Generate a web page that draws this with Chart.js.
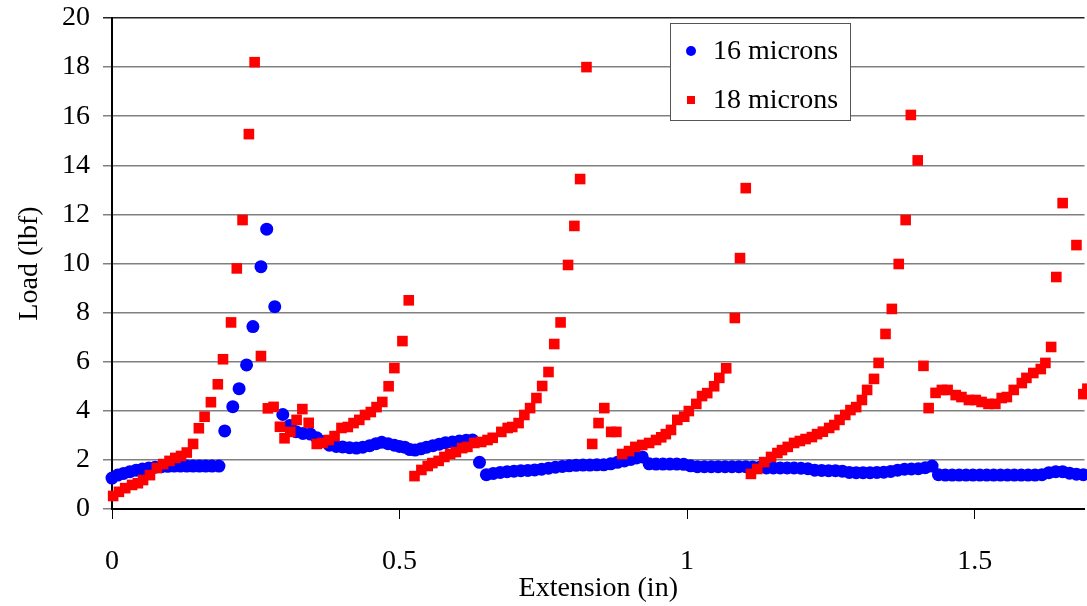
<!DOCTYPE html>
<html>
<head>
<meta charset="utf-8">
<script src="https://cdn.jsdelivr.net/npm/chart.js@4/dist/chart.umd.min.js"></script>
<style>
  body { margin: 0; overflow: hidden; background: #fff; }
  #wrap { width: 1092px; height: 606px; }
</style>
</head>
<body>
<div id="wrap"><canvas id="grafico" width="1092" height="606"></canvas></div>
<script>
// Extensao (in) e carga (lbf) de cada leitura
const ext16 = [0.000, 0.010, 0.020, 0.031, 0.042, 0.053, 0.064, 0.075, 0.086, 0.097, 0.108, 0.119, 0.130, 0.141, 0.152, 0.163, 0.174, 0.186,
  0.196, 0.210, 0.221, 0.234, 0.245, 0.259, 0.269, 0.283, 0.297, 0.309, 0.320, 0.332, 0.345, 0.356, 0.367, 0.378, 0.390, 0.401,
  0.413, 0.425, 0.436, 0.448, 0.459, 0.469, 0.480, 0.491, 0.500, 0.509, 0.518, 0.527, 0.537, 0.547, 0.558, 0.569, 0.580, 0.592,
  0.604, 0.616, 0.627, 0.639, 0.651, 0.663, 0.675, 0.687, 0.699, 0.711, 0.723, 0.735, 0.747, 0.759, 0.771, 0.783, 0.795, 0.807,
  0.819, 0.831, 0.843, 0.855, 0.867, 0.879, 0.891, 0.902, 0.912, 0.922, 0.934, 0.946, 0.958, 0.970, 0.982, 0.994, 1.006, 1.018,
  1.030, 1.042, 1.054, 1.066, 1.078, 1.090, 1.102, 1.114, 1.126, 1.138, 1.150, 1.162, 1.174, 1.186, 1.198, 1.210, 1.222, 1.234,
  1.246, 1.258, 1.270, 1.282, 1.294, 1.306, 1.318, 1.330, 1.342, 1.354, 1.366, 1.378, 1.390, 1.402, 1.414, 1.426, 1.437, 1.449,
  1.461, 1.473, 1.485, 1.497, 1.509, 1.521, 1.533, 1.545, 1.557, 1.569, 1.581, 1.593, 1.605, 1.617, 1.629, 1.641, 1.653, 1.665,
  1.677, 1.689];
const load16 = [1.26, 1.38, 1.45, 1.52, 1.58, 1.63, 1.67, 1.70, 1.72, 1.74, 1.75, 1.75, 1.75, 1.75, 1.75, 1.75, 1.75, 1.75,
  3.18, 4.17, 4.90, 5.87, 7.43, 9.87, 11.40, 8.24, 3.85, 3.40, 3.15, 3.08, 3.05, 2.90, 2.75, 2.60, 2.55, 2.53,
  2.50, 2.48, 2.52, 2.58, 2.66, 2.72, 2.66, 2.60, 2.55, 2.52, 2.42, 2.40, 2.45, 2.52, 2.58, 2.64, 2.70, 2.73,
  2.77, 2.80, 2.81, 1.90, 1.40, 1.45, 1.49, 1.52, 1.54, 1.56, 1.57, 1.59, 1.62, 1.66, 1.70, 1.73, 1.76, 1.78,
  1.79, 1.79, 1.80, 1.80, 1.84, 1.90, 1.96, 2.02, 2.08, 2.12, 1.84, 1.83, 1.83, 1.83, 1.83, 1.82, 1.76, 1.72,
  1.72, 1.72, 1.72, 1.72, 1.72, 1.72, 1.72, 1.71, 1.70, 1.67, 1.67, 1.67, 1.67, 1.67, 1.66, 1.64, 1.58, 1.57,
  1.56, 1.56, 1.54, 1.49, 1.48, 1.48, 1.48, 1.49, 1.50, 1.53, 1.58, 1.62, 1.63, 1.64, 1.68, 1.75, 1.40, 1.38,
  1.38, 1.38, 1.38, 1.38, 1.38, 1.38, 1.38, 1.38, 1.38, 1.38, 1.38, 1.38, 1.38, 1.40, 1.48, 1.52, 1.52, 1.46,
  1.42, 1.40];

const ext18 = [0.002, 0.012, 0.023, 0.035, 0.045, 0.054, 0.066, 0.078, 0.089, 0.100, 0.110, 0.120, 0.130, 0.141, 0.151, 0.161,
  0.172, 0.184, 0.193, 0.207, 0.217, 0.227, 0.238, 0.248, 0.259, 0.271, 0.281, 0.292, 0.300, 0.310, 0.321, 0.331, 0.342,
  0.356, 0.366, 0.377, 0.387, 0.399, 0.410, 0.420, 0.430, 0.440, 0.450, 0.460, 0.470, 0.481, 0.491, 0.505, 0.516, 0.526,
  0.538, 0.549, 0.557, 0.568, 0.578, 0.588, 0.598, 0.609, 0.618, 0.630, 0.642, 0.653, 0.662, 0.677, 0.688, 0.696, 0.707,
  0.717, 0.727, 0.738, 0.748, 0.759, 0.769, 0.780, 0.793, 0.804, 0.814, 0.825, 0.835, 0.846, 0.856, 0.868, 0.877, 0.887,
  0.899, 0.910, 0.922, 0.934, 0.946, 0.955, 0.963, 0.972, 0.983, 0.995, 1.003, 1.016, 1.026, 1.035, 1.047, 1.056, 1.068,
  1.083, 1.092, 1.102, 1.111, 1.122, 1.134, 1.146, 1.157, 1.165, 1.175, 1.186, 1.196, 1.206, 1.217, 1.226, 1.236, 1.247,
  1.256, 1.265, 1.275, 1.284, 1.294, 1.304, 1.313, 1.325, 1.333, 1.345, 1.356, 1.368, 1.380, 1.389, 1.401, 1.411, 1.420,
  1.432, 1.443, 1.453, 1.467, 1.477, 1.490, 1.502, 1.512, 1.524, 1.536, 1.547, 1.556, 1.568, 1.582, 1.590, 1.602, 1.615,
  1.623, 1.633, 1.642, 1.653, 1.677, 1.689, 1.696];
const load18 = [0.53, 0.70, 0.85, 0.98, 1.05, 1.18, 1.38, 1.67, 1.83, 1.96, 2.08, 2.16, 2.30, 2.65, 3.29, 3.76,
  4.35, 5.08, 6.10, 7.60, 9.80, 11.77, 15.27, 18.20, 6.23, 4.10, 4.16, 3.35, 2.88, 3.14, 3.63, 4.07, 3.51,
  2.65, 2.69, 2.81, 2.97, 3.30, 3.34, 3.50, 3.63, 3.83, 3.95, 4.15, 4.36, 5.00, 5.74, 6.84, 8.50, 1.34,
  1.59, 1.75, 1.87, 1.96, 2.12, 2.24, 2.32, 2.48, 2.53, 2.69, 2.73, 2.81, 2.90, 3.14, 3.30, 3.34, 3.50,
  3.83, 4.11, 4.52, 5.01, 5.58, 6.72, 7.60, 9.94, 11.53, 13.44, 18.00, 2.65, 3.50, 4.11, 3.14, 3.14, 2.24,
  2.36, 2.53, 2.61, 2.69, 2.81, 2.92, 3.05, 3.22, 3.63, 3.76, 3.99, 4.28, 4.60, 4.72, 5.00, 5.34, 5.73,
  7.78, 10.22, 13.07, 1.43, 1.63, 1.91, 2.12, 2.28, 2.40, 2.53, 2.69, 2.77, 2.85, 2.93, 3.05, 3.15, 3.30,
  3.42, 3.63, 3.83, 4.03, 4.15, 4.44, 4.85, 5.30, 5.95, 7.13, 8.15, 9.98, 11.77, 16.05, 14.20, 5.83, 4.11,
  4.73, 4.85, 4.85, 4.64, 4.56, 4.44, 4.44, 4.36, 4.28, 4.28, 4.52, 4.56, 4.85, 5.13, 5.34, 5.54, 5.70,
  5.95, 6.60, 9.45, 12.46, 10.75, 4.68, 4.90];

const yTicks = [0, 2, 4, 6, 8, 10, 12, 14, 16, 18, 20];
const xTicks = [0, 0.5, 1, 1.5];

const fonte = "'Liberation Serif', 'Times New Roman', serif";

function pontos(xs, ys) {
  return xs.map((x, i) => ({ x: x, y: ys[i] }));
}

// Legenda desenhada dentro da area do grafico
const legendaInterna = {
  id: "legendaInterna",
  afterDraw(chart) {
    const ctx = chart.ctx;
    ctx.save();
    ctx.fillStyle = "#fff";
    ctx.fillRect(670, 23, 180, 97);
    ctx.strokeStyle = "#555";
    ctx.lineWidth = 1;
    ctx.strokeRect(670.5, 23.5, 180, 97);
    ctx.font = "28px " + fonte;
    ctx.textBaseline = "middle";
    chart.data.datasets.forEach((ds, i) => {
      const cy = i === 0 ? 51 : 100;
      ctx.fillStyle = ds.backgroundColor;
      if (ds.pointStyle === "circle") {
        ctx.beginPath();
        ctx.arc(691, cy, 5, 0, Math.PI * 2);
        ctx.fill();
      } else {
        ctx.fillRect(687, cy - 4, 8, 8);
      }
      ctx.fillStyle = "#000";
      ctx.fillText(ds.label, 713, cy + 1);
    });
    ctx.restore();
  },
};

function grafico() {
  const ctx = document.getElementById("grafico");
  new Chart(ctx, {
    type: "scatter",
    data: {
      datasets: [
        {
          label: "16 microns",
          data: pontos(ext16, load16),
          pointStyle: "circle",
          pointRadius: 6.5,
          backgroundColor: "#0000ff",
          borderWidth: 0,
          order: 2,
          clip: false,
        },
        {
          label: "18 microns",
          data: pontos(ext18, load18),
          pointStyle: "rect",
          pointRadius: 7.5,
          backgroundColor: "#ff0000",
          borderWidth: 0,
          order: 1,
          clip: false,
        },
      ],
    },
    options: {
      responsive: false,
      animation: false,
      devicePixelRatio: 1,
      layout: { padding: { top: 18, right: 1, left: 0, bottom: 0 } },
      plugins: { legend: { display: false }, tooltip: { enabled: false } },
      scales: {
        x: {
          type: "linear",
          min: 0,
          max: 1.691,
          afterFit: (s) => {
            s.height = 97;
            s.paddingLeft = 0;
            s.paddingRight = 0;
          },
          afterBuildTicks: (s) => { s.ticks = xTicks.map((v) => ({ value: v })); },
          grid: { drawOnChartArea: false, drawTicks: true, tickLength: 10, tickColor: "#000", lineWidth: 1 },
          border: { color: "#000", width: 2 },
          ticks: {
            color: "#000",
            font: { family: fonte, size: 28 },
            padding: 26,
            maxRotation: 0,
            callback: (v) => String(v),
          },
          title: { display: true, text: "Extension (in)", color: "#000", font: { family: fonte, size: 28 }, padding: { top: 0, bottom: 1 } },
        },
        y: {
          min: 0,
          max: 20,
          afterFit: (s) => {
            s.width = 112;
            s.paddingTop = 0;
            s.paddingBottom = 0;
          },
          afterBuildTicks: (s) => { s.ticks = yTicks.map((v) => ({ value: v })); },
          grid: {
            color: (c) => (c.tick && c.tick.value === 20 ? "#222" : "#808080"),
            lineWidth: 1.5,
            tickLength: 9,
          },
          border: { color: "#000", width: 2 },
          ticks: { color: "#000", font: { family: fonte, size: 28 }, padding: 13 },
          title: { display: true, text: "Load (lbf)", color: "#000", font: { family: fonte, size: 28 }, padding: { top: 13, bottom: 0 } },
        },
      },
    },
    plugins: [legendaInterna],
  });
}

grafico();
</script>
</body>
</html>
